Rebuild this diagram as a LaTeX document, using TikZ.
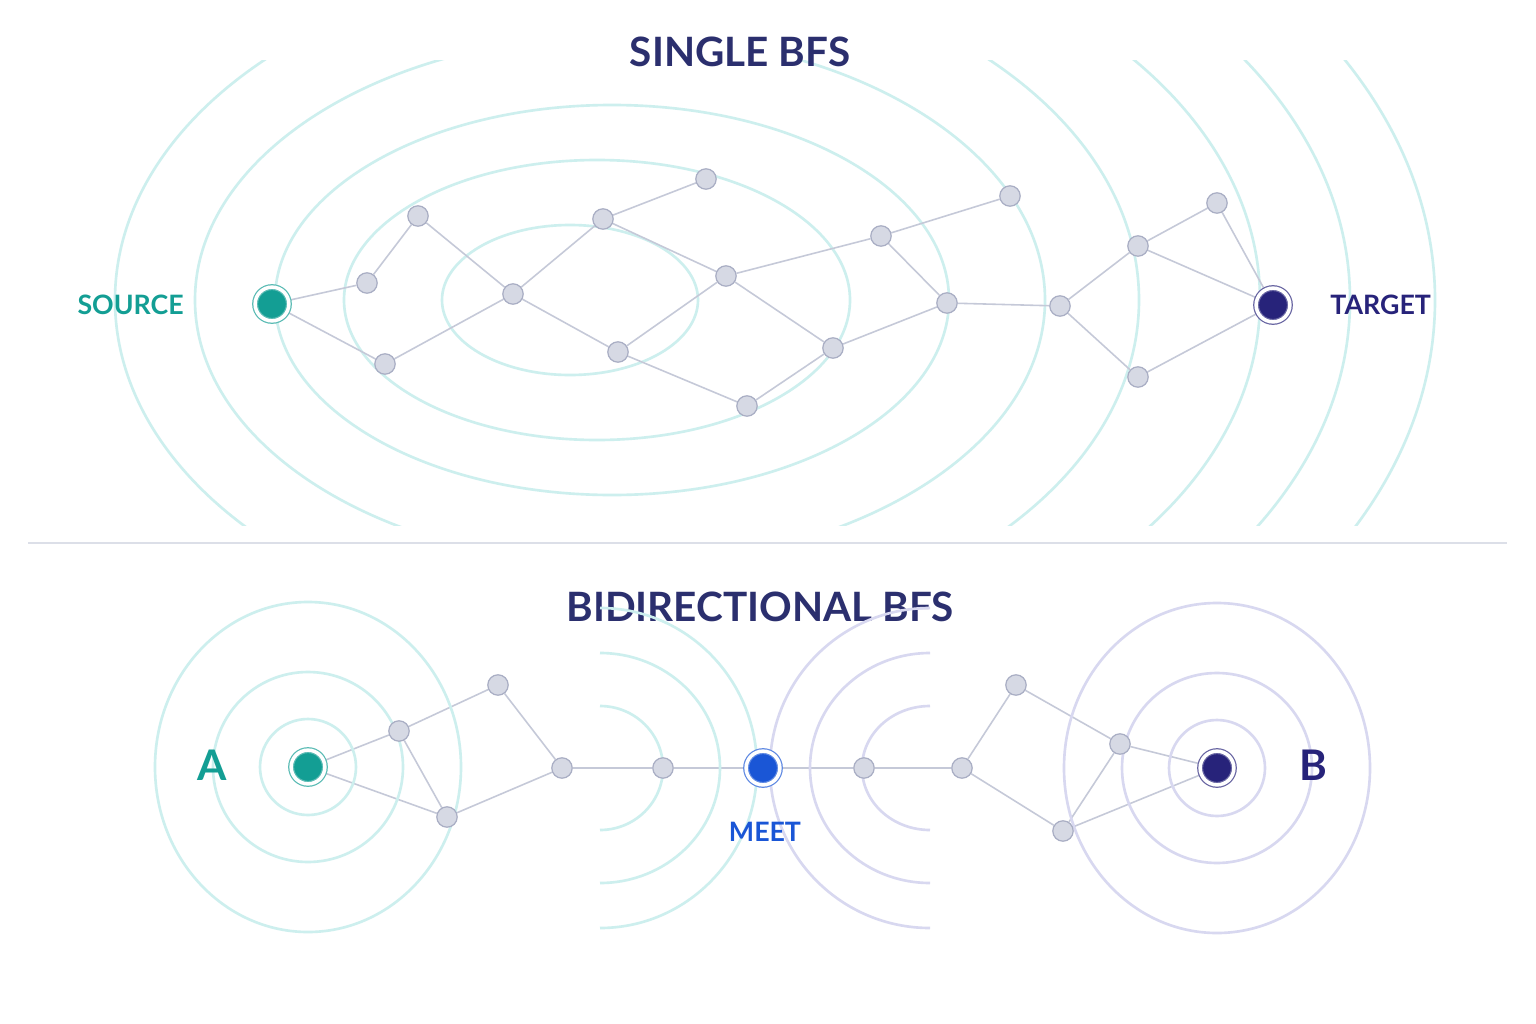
\documentclass[tikz,border=0pt]{standalone}
\usepackage{fontspec}
\setmainfont{Lato}
\usetikzlibrary{backgrounds}
\definecolor{teal1}{HTML}{139E94}
\definecolor{navy1}{HTML}{27237A}
\definecolor{title1}{HTML}{2B2F6E}
\definecolor{ringT}{HTML}{CDEFEE}
\definecolor{ringP}{HTML}{D8D8F0}
\definecolor{gfill}{HTML}{D6D9E4}
\definecolor{gdraw}{HTML}{A9AEC4}
\definecolor{edge1}{HTML}{C5C9D8}
\definecolor{meet1}{HTML}{1A56D6}
\tikzset{
  vert/.style={circle,draw=gdraw,fill=gfill,line width=0.35pt,minimum size=5.8pt,inner sep=0pt},
  endp/.style={circle,fill=#1,minimum size=9.6pt,inner sep=0pt,double=white,draw=#1!70,double distance=1pt,line width=0.35pt},
  link/.style={draw=edge1,line width=0.45pt},
  waveT/.style={draw=ringT,line width=0.75pt},
  waveP/.style={draw=ringP,line width=0.75pt},
  lbl/.style={font=\bfseries\fontsize{7.6}{8}\selectfont},
  head/.style={font=\bfseries\fontsize{11.5}{12}\selectfont,title1}
}
\begin{document}
\begin{tikzpicture}[x=0.01cm,y=-0.01cm]
\useasboundingbox (0,0) rectangle (1536,1024);
% top: single bfs
\node[head] (t1) at (740,52) {SINGLE BFS};
\node[endp=teal1] (src) at (272,304) {};
\node[endp=navy1] (tgt) at (1273,305) {};
\node[lbl,teal1,anchor=east] (srcl) at (196,305) {SOURCE};
\node[lbl,navy1,anchor=west] (tgtl) at (1318,305) {TARGET};
\foreach \n/\x/\y in {n1/367/283,n2/418/216,n3/385/364,n4/513/294,n5/603/219,n6/706/179,
  n7/618/352,n8/726/276,n9/747/406,n10/833/348,n11/881/236,n12/1010/196,n13/947/303,
  n14/1060/306,n15/1138/246,n16/1217/203,n17/1138/377}
  \node[vert] (\n) at (\x,\y) {};
\begin{pgfonlayer}{background}
\fill[white] (0,0) rectangle (1536,1024);
\begin{scope}
\clip (0,60) rectangle (1536,525);
\draw[waveT] (570,300) ellipse (128 and 75);
\draw[waveT] (597,300) ellipse (253 and 140);
\draw[waveT] (612,300) ellipse (337 and 195);
\draw[waveT] (620,300) ellipse (425 and 265);
\draw[waveT] (627,300) ellipse (512 and 340);
\clip (1100,0) rectangle (1536,1024);
\draw[waveT] (700,300) ellipse (560 and 380);
\draw[waveT] (700,300) ellipse (650 and 440);
\draw[waveT] (700,300) ellipse (735 and 500);
\end{scope}
\foreach \a/\b in {src/n1,n1/n2,src/n3,n2/n4,n3/n4,n4/n5,n5/n6,n4/n7,n5/n8,n7/n8,n7/n9,
  n8/n10,n9/n10,n8/n11,n11/n12,n11/n13,n10/n13,n13/n14,n14/n15,n14/n17,n15/n16,
  n15/tgt,n16/tgt,n17/tgt}
  \draw[link] (\a) -- (\b);
\end{pgfonlayer}
% divider
\coordinate (dl) at (28,543);
\coordinate (dr) at (1507,543);
\draw[edge1!60,line width=0.5pt] (dl) -- (dr);
% bottom: bidirectional bfs
\node[head] (t2) at (760,607) {BIDIRECTIONAL BFS};
\foreach \r in {48,95} \draw[waveT] (308,767) circle (\r);
\draw[waveT] (308,767) ellipse (153 and 165);
\foreach \r in {48,95} \draw[waveP] (1217,768) circle (\r);
\draw[waveP] (1217,768) ellipse (153 and 165);
\foreach \rx/\ry in {63/62,120/115,157/160}
  \draw[waveT] (600,{768-\ry}) arc[start angle=-90,end angle=90,x radius=\rx,y radius=\ry];
\foreach \rx/\ry in {68/62,120/115,160/160}
  \draw[waveP] (930,{768-\ry}) arc[start angle=-90,end angle=-270,x radius=\rx,y radius=\ry];
\node[endp=teal1] (a) at (308,767) {};
\node[endp=navy1] (b) at (1217,768) {};
\node[endp=meet1] (m) at (763,768) {};
\node[lbl,teal1,font=\bfseries\fontsize{12}{12}\selectfont] (al) at (212,765) {A};
\node[lbl,navy1,font=\bfseries\fontsize{12}{12}\selectfont] (bl) at (1313,765) {B};
\node[lbl,meet1] (ml) at (765,832) {MEET};
\foreach \n/\x/\y in {b1/399/731,b2/498/685,b3/447/817,b4/562/768,b5/663/768,b6/864/768,
  b7/962/768,b8/1016/685,b9/1120/744,b10/1063/831}
  \node[vert] (\n) at (\x,\y) {};
\begin{pgfonlayer}{background}
\foreach \a/\b in {a/b1,a/b3,b1/b2,b1/b3,b2/b4,b3/b4,b4/b5,b5/m,m/b6,b6/b7,b7/b8,b7/b10,
  b8/b9,b9/b,b9/b10,b10/b}
  \draw[link] (\a) -- (\b);
\end{pgfonlayer}
\end{tikzpicture}
\end{document}
